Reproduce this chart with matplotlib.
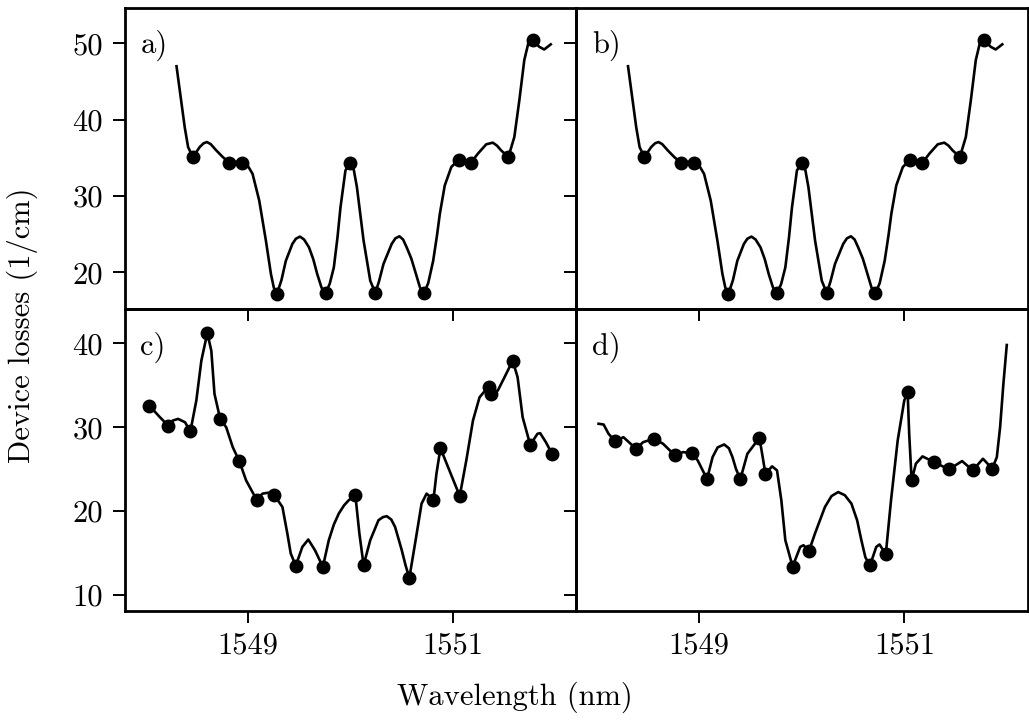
import matplotlib
matplotlib.use("Agg")
import matplotlib.pyplot as plt

# panel a) and b) show the same spectrum
ab_curve_x = [1548.307, 1548.387, 1548.420, 1548.467, 1548.532, 1548.570, 1548.603, 1548.640,
              1548.694, 1548.758, 1548.823, 1548.885, 1548.946, 1549.000, 1549.048, 1549.113,
              1549.178, 1549.227, 1549.255, 1549.285, 1549.330, 1549.372, 1549.436, 1549.470,
              1549.510, 1549.550, 1549.598, 1549.640, 1549.678, 1549.720, 1549.759, 1549.800,
              1549.840, 1549.875, 1549.905, 1549.953, 1550.001, 1550.035, 1550.065, 1550.130,
              1550.195, 1550.244, 1550.280, 1550.324, 1550.404, 1550.440, 1550.479, 1550.515,
              1550.550, 1550.595, 1550.631, 1550.680, 1550.718, 1550.760, 1550.808, 1550.845,
              1550.873, 1550.921, 1550.985, 1551.057, 1551.115, 1551.173, 1551.244, 1551.325,
              1551.389, 1551.430, 1551.470, 1551.541, 1551.599, 1551.648, 1551.696, 1551.735,
              1551.777, 1551.842, 1551.890, 1551.954]
ab_curve_y = [47.0, 39.0, 36.4, 35.1, 36.4, 36.9, 37.07, 36.8,
              35.98, 35.1, 34.36, 34.5, 34.36, 34.0, 32.9, 29.4,
              24.15, 19.78, 18.0, 17.15, 19.0, 21.5, 23.72, 24.4,
              24.68, 24.3, 23.27, 21.7, 19.78, 18.0, 17.23, 18.5,
              20.64, 24.5, 28.53, 33.35, 34.31, 33.4, 31.16, 24.15,
              18.9, 17.28, 18.8, 21.1, 23.72, 24.45, 24.72, 24.3,
              23.27, 21.8, 20.2, 18.0, 17.23, 18.6, 21.5, 24.8,
              27.66, 31.38, 33.8, 34.76, 34.4, 34.31, 35.55, 36.77,
              36.99, 36.6, 35.98, 35.1, 37.73, 42.55, 47.8, 50.0,
              50.43, 49.55, 49.2, 49.87]
ab_mark_x = [1548.467, 1548.823, 1548.946, 1549.285, 1549.759, 1550.001,
             1550.244, 1550.718, 1551.057, 1551.173, 1551.541, 1551.777]
ab_mark_y = [35.1, 34.36, 34.36, 17.15, 17.23, 34.31,
             17.28, 17.23, 34.76, 34.31, 35.1, 50.43]

# panel c)
c_curve_x = [1548.042, 1548.145, 1548.225, 1548.270, 1548.322, 1548.390, 1548.442, 1548.500,
             1548.549, 1548.607, 1548.646, 1548.677, 1548.733, 1548.791, 1548.855, 1548.920,
             1548.985, 1549.087, 1549.145, 1549.200, 1549.261, 1549.339, 1549.387, 1549.420,
             1549.469, 1549.533, 1549.591, 1549.656, 1549.733, 1549.791, 1549.840, 1549.888,
             1549.940, 1549.985, 1550.050, 1550.089, 1550.130, 1550.195, 1550.275, 1550.320,
             1550.356, 1550.400, 1550.437, 1550.502, 1550.540, 1550.576, 1550.637, 1550.695,
             1550.744, 1550.811, 1550.840, 1550.879, 1550.953, 1551.067, 1551.131, 1551.196,
             1551.260, 1551.348, 1551.367, 1551.438, 1551.503, 1551.583, 1551.631, 1551.680,
             1551.754, 1551.825, 1551.851, 1551.906, 1551.970]
c_curve_y = [32.59, 31.2, 30.21, 30.8, 31.0, 30.6, 29.5, 33.19,
             37.94, 41.24, 39.13, 33.98, 30.96, 30.01, 27.63, 25.93,
             23.67, 21.38, 22.09, 22.2, 21.89, 20.5, 17.33, 14.96,
             13.49, 15.74, 16.62, 15.35, 13.36, 16.54, 18.4, 19.71,
             20.7, 21.3, 21.89, 17.34, 13.57, 16.54, 18.92, 19.3,
             19.4, 19.0, 18.12, 15.35, 13.5, 12.06, 16.54, 20.9,
             22.09, 21.38, 24.47, 27.51, 25.26, 21.81, 26.05, 30.81,
             33.58, 34.85, 33.98, 34.38, 35.96, 37.94, 35.96, 31.2,
             27.91, 29.23, 29.3, 28.23, 26.77]
c_mark_x = [1548.042, 1548.225, 1548.442, 1548.607, 1548.733, 1548.920, 1549.087,
            1549.261, 1549.469, 1549.733, 1550.050, 1550.130, 1550.576, 1550.811,
            1550.879, 1551.067, 1551.348, 1551.367, 1551.583, 1551.754, 1551.970]
c_mark_y = [32.59, 30.21, 29.5, 41.24, 30.96, 25.93, 21.38,
            21.89, 13.49, 13.36, 21.89, 13.57, 12.06, 21.38,
            27.51, 21.81, 34.85, 33.98, 37.94, 27.91, 26.77]

# panel d)
d_curve_x = [1548.020, 1548.069, 1548.117, 1548.182, 1548.262, 1548.385, 1548.455, 1548.558,
             1548.648, 1548.764, 1548.842, 1548.928, 1548.986, 1549.077, 1549.131, 1549.180,
             1549.244, 1549.290, 1549.325, 1549.360, 1549.402, 1549.470, 1549.588, 1549.646,
             1549.711, 1549.759, 1549.801, 1549.840, 1549.911, 1549.985, 1550.017, 1550.071,
             1550.129, 1550.226, 1550.290, 1550.355, 1550.420, 1550.484, 1550.540, 1550.581,
             1550.620, 1550.665, 1550.726, 1550.758, 1550.819, 1550.870, 1550.935, 1550.999,
             1551.032, 1551.047, 1551.071, 1551.112, 1551.177, 1551.289, 1551.434, 1551.563,
             1551.666, 1551.766, 1551.856, 1551.901, 1551.933, 1551.965, 1551.998]
d_curve_y = [30.42, 30.33, 29.23, 28.31, 28.82, 27.44, 28.23, 28.63,
             28.04, 26.65, 27.04, 26.92, 26.05, 23.83, 26.44, 27.6,
             27.95, 27.5, 26.44, 25.0, 23.83, 26.84, 28.75, 24.47,
             25.34, 24.86, 21.3, 16.54, 13.4, 15.74, 15.94, 15.27,
             17.34, 20.5, 21.8, 22.28, 21.9, 20.9, 18.9, 16.54,
             14.5, 13.53, 15.74, 16.03, 14.87, 21.3, 28.43, 33.19,
             34.18, 29.23, 23.67, 25.66, 26.53, 25.85, 24.98, 25.97,
             24.86, 26.25, 25.07, 26.44, 30.01, 35.17, 39.81]
d_mark_x = [1548.182, 1548.385, 1548.558, 1548.764, 1548.928, 1549.077, 1549.402,
            1549.588, 1549.646, 1549.911, 1550.071, 1550.665, 1550.819, 1551.032,
            1551.071, 1551.289, 1551.434, 1551.666, 1551.856]
d_mark_y = [28.31, 27.44, 28.63, 26.65, 26.92, 23.83, 23.83,
            28.75, 24.47, 13.4, 15.27, 13.53, 14.87, 34.18,
            23.67, 25.85, 24.98, 24.86, 25.07]

x_ticks = [1549, 1551]
top_yticks = [20, 30, 40, 50]
bottom_yticks = [10, 20, 30, 40]

plt.rcParams["font.family"] = "serif"
plt.rcParams["font.serif"] = ["cmr10", "DejaVu Serif"]
plt.rcParams["axes.formatter.use_mathtext"] = True
plt.rcParams["font.size"] = 22

fig, axes = plt.subplots(2, 2, figsize=(10.29, 7.2), dpi=100, sharex=True)
fig.subplots_adjust(left=124.5 / 1029, right=1027.5 / 1029, top=1 - 7.5 / 720,
                    bottom=1 - 611 / 720, wspace=0, hspace=0)

panels = [
    (axes[0, 0], ab_curve_x, ab_curve_y, ab_mark_x, ab_mark_y, "a)"),
    (axes[0, 1], ab_curve_x, ab_curve_y, ab_mark_x, ab_mark_y, "b)"),
    (axes[1, 0], c_curve_x, c_curve_y, c_mark_x, c_mark_y, "c)"),
    (axes[1, 1], d_curve_x, d_curve_y, d_mark_x, d_mark_y, "d)"),
]

for i, (ax, cx, cy, mx, my, label) in enumerate(panels):
    # transparent so the outward ticks of neighbouring panels stay visible
    ax.patch.set_visible(False)
    ax.plot(cx, cy, color="black", lw=1.9, solid_joinstyle="round")
    ax.plot(mx, my, "o", color="black", ms=9)
    ax.text(0.035, 0.925, label, transform=ax.transAxes, va="top", ha="left", fontsize=22)
    ax.set_xlim(1547.8, 1552.2)
    row = i // 2
    col = i % 2
    if row == 0:
        ax.set_ylim(15.16, 54.7)
        ax.set_yticks(top_yticks, labels=[str(t) for t in top_yticks])
    else:
        ax.set_ylim(8.1, 44.07)
        ax.set_yticks(bottom_yticks, labels=[str(t) for t in bottom_yticks])
    ax.set_xticks(x_ticks, labels=[str(t) for t in x_ticks])
    ax.tick_params(direction="out", length=8.5, width=1.4, pad=7,
                   labelleft=(col == 0), labelbottom=(row == 1))
    for s in ax.spines.values():
        s.set_linewidth(2.0)

fig.text(22 / 1029, 1 - 325 / 720, "Device losses (1/cm)", rotation=90,
         ha="center", va="center", fontsize=22)
fig.text(0.5, 1 - 697 / 720, "Wavelength (nm)", ha="center", va="center", fontsize=22)

fig.savefig("out.png", dpi=100)
